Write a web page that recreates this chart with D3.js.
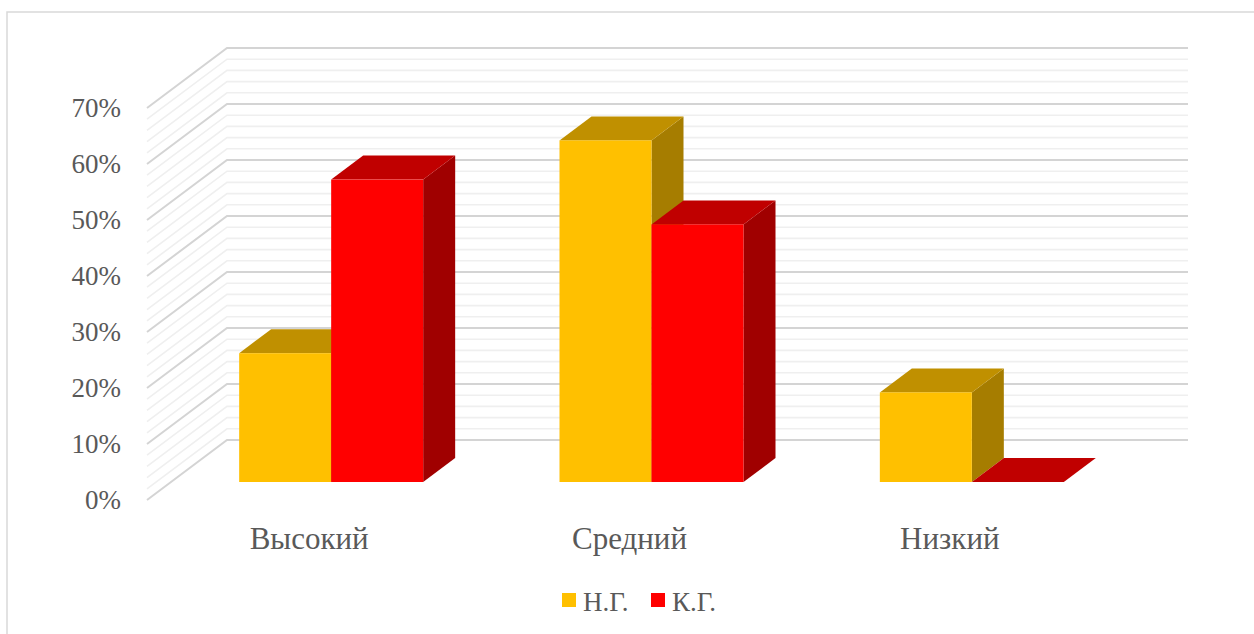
<!DOCTYPE html>
<html>
<head>
<meta charset="utf-8">
<script src="https://cdn.jsdelivr.net/npm/d3@7"></script>
<style>
  body { margin: 0; background: #fff; }
  text { font-family: "Liberation Serif", "Times New Roman", serif; fill: #595959; }
</style>
</head>
<body>
<svg width="1254" height="634"></svg>
<script>
(function() {
    'use strict';
    var categories = ["Высокий", "Средний", "Низкий"];
    var seriesNames = ["Н.Г.", "К.Г."];
    var ngValues = [0.23, 0.61, 0.16];
    var kgValues = [0.54, 0.46, 0.00];
    var yTicks = [0, 0.1, 0.2, 0.3, 0.4, 0.5, 0.6, 0.7];

    var colors = {
        "Н.Г.": { front: "#ffc000", top: "#c09000", side: "#a67d00" },
        "К.Г.": { front: "#ff0000", top: "#c00000", side: "#a00000" }
    };

    var svg = d3.select("svg");

    // depth offset of the 3d box (full depth)
    var depthX = 80, depthY = -60;
    var z0 = 0.3, z1 = 0.7;

    var y = d3.scaleLinear().domain([0, 0.7]).range([500, 108]);
    var x = d3.scaleBand().domain(categories).range([147, 1108]);
    var bw = x.bandwidth();
    var barW = 92;
    var sub = d3.scaleBand().domain(seriesNames)
        .range([(bw - 2 * barW) / 2, (bw + 2 * barW) / 2]);

    function proj(px, v, z) {
        return [px + z * depthX, y(v) + z * depthY];
    }

    // outer border
    svg.append("rect")
        .attr("x", 7).attr("y", 12)
        .attr("width", 1270).attr("height", 650)
        .attr("fill", "none")
        .attr("stroke", "#d9d9d9")
        .attr("stroke-width", 1.5);

    // gridlines: major every 10%, minor every 2%
    var grid = d3.range(0, 71, 2).map(function(d) { return d / 100; });
    var left = x.range()[0], right = x.range()[1];
    var g = svg.append("g");
    grid.forEach(function(v) {
        var major = Math.round(v * 100) % 10 === 0;
        var a = proj(left, v, 0), b = proj(left, v, 1), c = proj(right, v, 1);
        g.append("path")
            .attr("d", d3.line()([a, b, c]))
            .attr("fill", "none")
            .attr("stroke", major ? "#d4d4d4" : "#efefef")
            .attr("stroke-width", major ? 2 : 1.6);
    });

    // y axis labels
    svg.append("g").selectAll("text")
        .data(yTicks)
        .enter().append("text")
        .attr("x", 121)
        .attr("y", function(d) { return y(d); })
        .attr("dy", "0.35em")
        .attr("text-anchor", "end")
        .attr("font-size", 27)
        .text(function(d) { return Math.round(d * 100) + "%"; });

    // bars
    var bars = [];
    categories.forEach(function(c, i) {
        bars.push({ cat: c, s: "Н.Г.", v: ngValues[i] });
        bars.push({ cat: c, s: "К.Г.", v: kgValues[i] });
    });

    var line = d3.line();
    var gb = svg.append("g");
    bars.forEach(function(d) {
        var xl = x(d.cat) + sub(d.s), xr = xl + sub.bandwidth();
        var col = colors[d.s];
        // side
        gb.append("path")
            .attr("d", line([proj(xr, 0, z0), proj(xr, 0, z1), proj(xr, d.v, z1), proj(xr, d.v, z0)]) + "Z")
            .attr("fill", col.side);
        // top
        gb.append("path")
            .attr("d", line([proj(xl, d.v, z0), proj(xr, d.v, z0), proj(xr, d.v, z1), proj(xl, d.v, z1)]) + "Z")
            .attr("fill", col.top);
        // front
        var p0 = proj(xl, d.v, z0), p1 = proj(xr, 0, z0);
        gb.append("rect")
            .attr("x", p0[0]).attr("y", p0[1])
            .attr("width", p1[0] - p0[0])
            .attr("height", p1[1] - p0[1])
            .attr("fill", col.front);
    });

    // category labels
    svg.append("g").selectAll("text")
        .data(categories)
        .enter().append("text")
        .attr("x", function(d) { return x(d) + bw / 2 + 2; })
        .attr("y", 549)
        .attr("text-anchor", "middle")
        .attr("font-size", 31)
        .text(function(d) { return d; });

    // legend
    var legendX = [562, 651];
    var lg = svg.append("g").selectAll("g")
        .data(seriesNames)
        .enter().append("g")
        .attr("transform", function(d, i) { return "translate(" + legendX[i] + ",593)"; });
    lg.append("rect")
        .attr("width", 14).attr("height", 14)
        .attr("fill", function(d) { return colors[d].front; });
    lg.append("text")
        .attr("x", 21).attr("y", 18)
        .attr("font-size", 27)
        .text(function(d) { return d; });
}());
</script>
</body>
</html>
